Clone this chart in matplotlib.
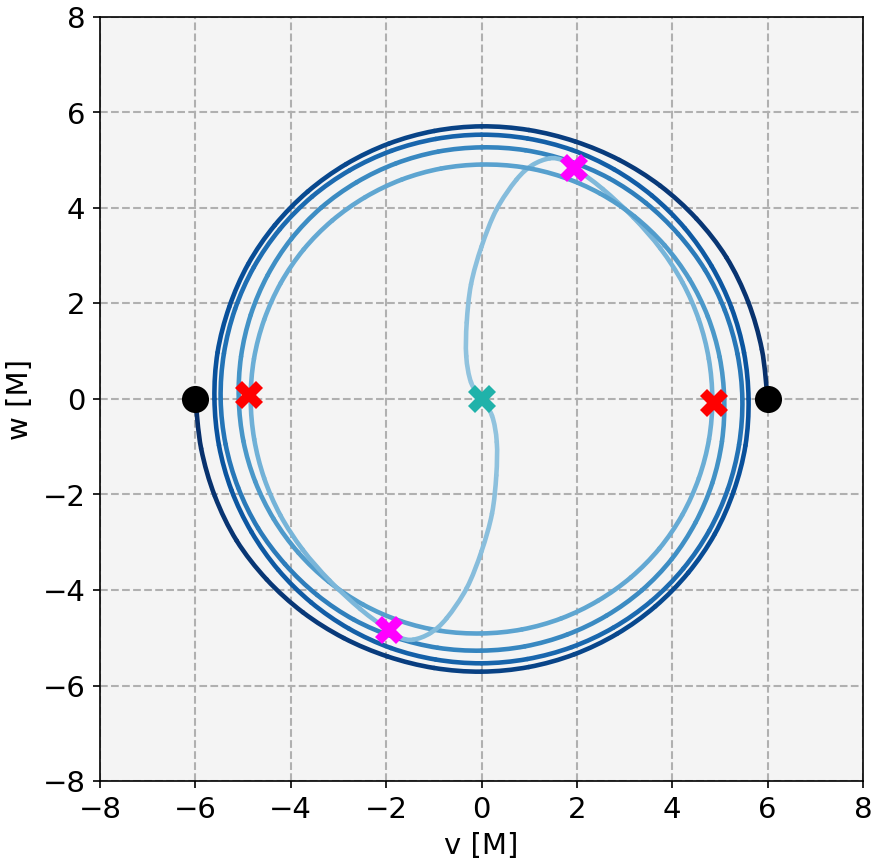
import numpy as np
import matplotlib.pyplot as plt
from matplotlib.path import Path
from matplotlib.patches import PathPatch

# orbit of the first body, spiral part in polar form (angle in deg, radius in M)
theta_deg = [0, 10, 20, 30, 40, 50, 60, 70, 80, 90,
             100, 110, 120, 130, 140, 150, 160, 170, 180,
             190, 200, 210, 220, 230, 240, 250, 260, 270,
             280, 290, 300, 310, 320, 330, 340, 350, 360,
             370, 380, 390, 400, 410, 420, 430, 440, 450,
             460, 470, 480, 490, 500, 510, 520, 530, 540,
             550, 560, 570, 580, 590, 600, 610, 620, 630,
             640, 650, 660, 670, 680, 690, 700, 710, 720,
             730, 740, 750, 760, 770, 780, 788]
radius = [6.00, 5.97, 5.95, 5.93, 5.88, 5.83, 5.78, 5.74, 5.72, 5.71,
          5.70, 5.69, 5.68, 5.67, 5.66, 5.65, 5.63, 5.62, 5.60,
          5.59, 5.58, 5.57, 5.565, 5.56, 5.555, 5.55, 5.54, 5.535,
          5.53, 5.53, 5.53, 5.53, 5.525, 5.515, 5.50, 5.485, 5.47,
          5.45, 5.43, 5.41, 5.38, 5.36, 5.34, 5.31, 5.29, 5.27,
          5.26, 5.25, 5.24, 5.23, 5.21, 5.18, 5.15, 5.12, 5.09,
          5.07, 5.05, 5.03, 5.01, 4.99, 4.97, 4.95, 4.93, 4.91,
          4.90, 4.89, 4.88, 4.875, 4.87, 4.86, 4.85, 4.845, 4.84,
          4.84, 4.85, 4.87, 4.90, 4.96, 5.08, 5.22]

# plunge to the centre (v, w)
plunge_v = [1.70, 1.43, 1.07, 0.73, 0.31, 0.00, -0.22, -0.31, -0.32, -0.22, 0.00]
plunge_w = [5.00, 5.04, 4.90, 4.59, 3.96, 3.19, 2.40, 1.60, 0.90, 0.35, 0.00]

# markers
start_v = [6.0, -6.0]
start_w = [0.0, 0.0]
red_v = [-4.88, 4.88]
red_w = [0.08, -0.08]
mag_v = [1.95, -1.95]
mag_w = [4.84, -4.84]
merge_v = [0.0]
merge_w = [0.0]

th = np.radians(theta_deg)
v1 = np.concatenate([np.array(radius) * np.cos(th), plunge_v])
w1 = np.concatenate([np.array(radius) * np.sin(th), plunge_w])
# second body is point symmetric
v2, w2 = -v1, -w1

fig = plt.figure(figsize=(883 / 150, 868 / 150), dpi=150)
ax = fig.add_axes([100 / 883, 87 / 868, 763 / 883, 764 / 868])
ax.set_facecolor('#f4f4f4')

cmap = plt.get_cmap('Blues')


def draw_track(vv, ww):
    # smooth curve through the read points, coloured along the track
    p = np.column_stack([vv, ww])
    n = len(p)
    s = np.concatenate([[0], np.cumsum(np.hypot(np.diff(vv), np.diff(ww)))])
    s = s / s[-1]
    for i in range(n - 1):
        a = p[max(i - 1, 0)]
        b = p[i]
        c = p[i + 1]
        d = p[min(i + 2, n - 1)]
        c1 = b + (c - a) / 6
        c2 = c - (d - b) / 6
        path = Path([b, c1, c2, c], [Path.MOVETO, Path.CURVE4, Path.CURVE4, Path.CURVE4])
        ax.add_patch(PathPatch(path, facecolor='none', edgecolor=cmap(1.0 - 0.6 * s[i]),
                               linewidth=2.2, capstyle='round', zorder=2))


draw_track(v1, w1)
draw_track(v2, w2)

ax.plot(start_v, start_w, 'o', color='black', markersize=12, zorder=4)
ax.plot(red_v, red_w, 'X', color='red', markersize=13, markeredgewidth=0, zorder=4)
ax.plot(mag_v, mag_w, 'X', color='magenta', markersize=13, markeredgewidth=0, zorder=4)
ax.plot(merge_v, merge_w, 'X', color='lightseagreen', markersize=13, markeredgewidth=0, zorder=4)

ax.set_xlim(-8, 8)
ax.set_ylim(-8, 8)
ax.set_xticks(range(-8, 9, 2))
ax.set_yticks(range(-8, 9, 2))
ax.tick_params(labelsize=14)
ax.set_xlabel('v [M]', fontsize=14, labelpad=4)
ax.set_ylabel('w [M]', fontsize=14, labelpad=4)
ax.grid(True, linestyle='--', color='#b0b0b0', linewidth=1.0)
ax.set_axisbelow(True)

fig.savefig('out.png', dpi=150)
